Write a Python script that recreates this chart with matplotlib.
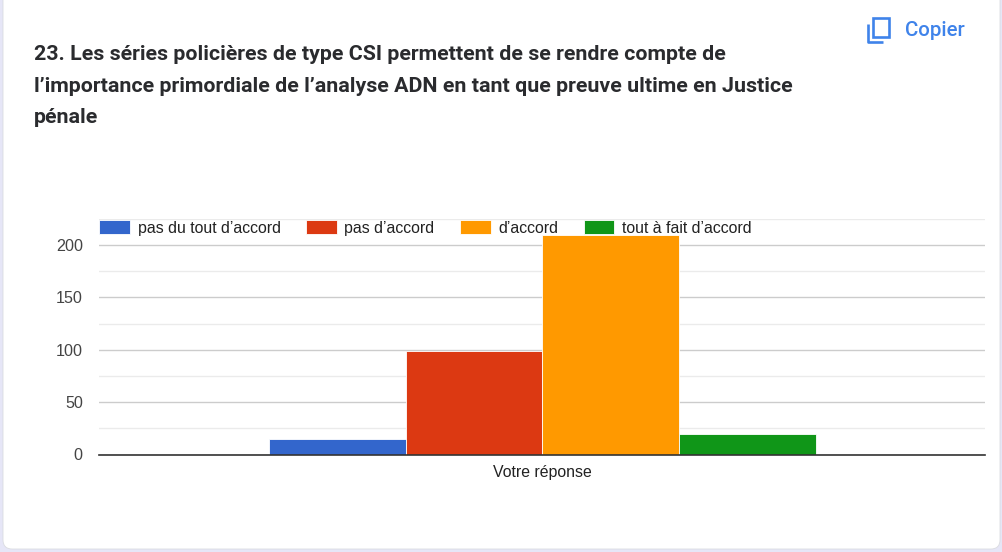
import matplotlib
matplotlib.use("Agg")
import matplotlib.pyplot as plt
from matplotlib.patches import FancyBboxPatch, Rectangle
from matplotlib.ticker import MultipleLocator

W, H = 1003, 552

title_lines = [
    "23. Les séries policières de type CSI permettent de se rendre compte de",
    "l’importance primordiale de l’analyse ADN en tant que preuve ultime en Justice",
    "pénale",
]
category = "Votre réponse"
series_names = ["pas du tout d’accord", "pas d’accord", "d’accord", "tout à fait d’accord"]
series_values = [15, 99, 210, 20]
series_colors = ["#3366cc", "#dc3912", "#ff9900", "#109618"]
y_ticks = [0, 50, 100, 150, 200]

plt.rcParams["font.family"] = ["Liberation Sans", "DejaVu Sans"]

fig = plt.figure(figsize=(W / 100, H / 100), dpi=100, facecolor="#e6e6f7")

# overlay in pixel coords for the card, title and copy button
bg = fig.add_axes([0, 0, 1, 1])
bg.set_xlim(0, W)
bg.set_ylim(H, 0)
bg.axis("off")
bg.add_patch(FancyBboxPatch((3, -30), 997, 579, boxstyle="round,pad=0,rounding_size=9",
                            facecolor="white", edgecolor="#dadce0", linewidth=0.6))

for i, line in enumerate(title_lines):
    bg.text(34, 60 + i * 31.6, line, family="Roboto", fontweight="bold", fontsize=15.37,
            color="#2a2b2e", va="baseline", ha="left")

blue = "#3f83ea"
bg.add_patch(Rectangle((873.5, 18), 15.5, 18.5, fill=False, edgecolor=blue, linewidth=1.9))
bg.plot([868.5, 868.5, 883.5], [24, 41.5, 41.5], color=blue, linewidth=1.9, solid_capstyle="butt")
bg.text(905, 36.5, "Copier", family="Roboto", fontweight="medium", fontsize=14.8,
        color=blue, va="baseline", ha="left")

ax = fig.add_axes([99.5 / W, 1 - 454.5 / H, 886 / W, 235.7 / H])
ax.patch.set_alpha(0)

x_pos = [-1.5, -0.5, 0.5, 1.5]
for x, v, c, name in zip(x_pos, series_values, series_colors, series_names):
    ax.bar(x, v, width=1, color=c, edgecolor="white", linewidth=0.6, label=name)

ax.set_xlim(-3.24, 3.24)
ax.set_ylim(0, 225)
ax.set_yticks(y_ticks)
ax.yaxis.set_minor_locator(MultipleLocator(25))
ax.set_xticks([0])
ax.set_xticklabels([category])
ax.set_axisbelow(True)
ax.grid(axis="y", which="major", color="#cccccc", linewidth=1)
ax.grid(axis="y", which="minor", color="#ebebeb", linewidth=1)
ax.tick_params(axis="y", which="both", length=0)
ax.tick_params(axis="y", which="major", pad=12, labelsize=11.6, labelcolor="#444444")
ax.tick_params(axis="x", length=0, pad=7.5, labelsize=11.4, labelcolor="#222222")
for s in ["top", "left", "right"]:
    ax.spines[s].set_visible(False)
ax.spines["bottom"].set_color("#333333")
ax.spines["bottom"].set_linewidth(1.2)

leg = ax.legend(loc="upper left", bbox_to_anchor=(99.5 / W, 1 - 220 / H), bbox_transform=fig.transFigure,
                ncol=4, frameon=False, fontsize=11.45, borderpad=0, borderaxespad=0,
                handlelength=1.92, handleheight=1.0, handletextpad=0.47, columnspacing=1.62)
for t in leg.get_texts():
    t.set_color("#222222")

fig.savefig("out.png", dpi=100, facecolor=fig.get_facecolor())
